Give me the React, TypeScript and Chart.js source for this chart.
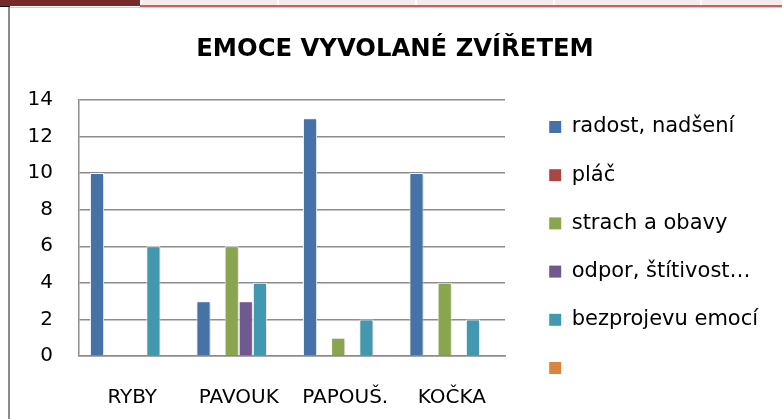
import React, { useEffect, useRef } from 'react';
import { Chart, registerables } from 'chart.js';

Chart.register(...registerables);

const categories = ['RYBY', 'PAVOUK', 'PAPOUŠ.', 'KOČKA'];
const seriesNames = ['radost, nadšení', 'pláč', 'strach a obavy', 'odpor, štítivost…', 'bezprojevu emocí', ''];
const radost: (number | null)[] = [10, 3, 13, 10];
const plac: (number | null)[] = [null, null, null, null];
const strach: (number | null)[] = [null, 6, 1, 4];
const odpor: (number | null)[] = [null, 3, null, null];
const bezprojevu: (number | null)[] = [6, 4, 2, 2];
const serie6: (number | null)[] = [null, null, null, null];
const seriesColors = ['#4572A7', '#AA4643', '#89A54E', '#71588F', '#4198AF', '#DB843D'];
const yMin = 0;
const yMax = 14;
const yStep = 2;
const chartTitle = 'EMOCE VYVOLANÉ ZVÍŘETEM';

const FONT = "'DejaVu Sans', sans-serif";

const framePlugin = {
  id: 'framePlugin',
  beforeDraw(chart: any) {
    const { ctx, width, height } = chart;
    ctx.save();
    ctx.fillStyle = '#ffffff';
    ctx.fillRect(0, 0, width, height);
    // spreadsheet strip at the top
    ctx.fillStyle = '#F6EAEA';
    ctx.fillRect(140, 0, width - 140, 6);
    ctx.fillStyle = '#ffffff';
    for (const x of [140, 277, 415, 553, 700]) ctx.fillRect(x, 0, 2, 6);
    ctx.fillStyle = '#C9605E';
    ctx.fillRect(140, 5, width - 140, 2);
    ctx.fillStyle = '#772A2C';
    ctx.fillRect(0, 0, 140, 6);
    ctx.fillStyle = '#111111';
    ctx.fillRect(0, 6, 10, 1);
    // chart frame
    ctx.fillStyle = '#cfcfcf';
    ctx.fillRect(10, 7, width - 10, 1);
    ctx.fillStyle = '#8a8a8a';
    ctx.fillRect(8, 7, 2, height - 7);
    ctx.restore();
  },
};

const shadowPlugin = {
  id: 'shadowPlugin',
  beforeDatasetsDraw(chart: any) {
    const ctx = chart.ctx;
    ctx.save();
    ctx.shadowColor = 'rgba(0,0,0,0.22)';
    ctx.shadowBlur = 3;
    ctx.shadowOffsetX = 1;
    ctx.shadowOffsetY = 1;
  },
  afterDatasetsDraw(chart: any) {
    chart.ctx.restore();
  },
};

export default function App() {
  const ref = useRef<HTMLCanvasElement | null>(null);

  useEffect(() => {
    if (!ref.current) return;
    const seriesData = [radost, plac, strach, odpor, bezprojevu, serie6];
    const chart = new Chart(ref.current, {
      type: 'bar',
      data: {
        labels: categories,
        datasets: seriesData.map((d, i) => ({
          label: seriesNames[i],
          data: d,
          backgroundColor: seriesColors[i],
          borderColor: '#ffffff',
          borderWidth: 1,
          categoryPercentage: 6 / 7.55,
          barPercentage: 1,
        })),
      },
      options: {
        responsive: false,
        animation: false,
        devicePixelRatio: 1,
        layout: { padding: { left: 27, right: 19, top: 0, bottom: 0 } },
        plugins: {
          title: {
            display: true,
            text: chartTitle,
            color: '#000000',
            font: { family: FONT, size: 24.3, weight: 'bold', lineHeight: 1.2 },
            padding: { top: 35.5, bottom: 35.3 },
          },
          legend: {
            display: true,
            position: 'right',
            align: 'center',
            maxWidth: 241,
            title: { display: true, text: ' ', font: { size: 10, lineHeight: 1.2 }, padding: { top: 0, bottom: 64 } },
            labels: {
              color: '#000000',
              font: { family: FONT, size: 21 },
              boxWidth: 12,
              boxHeight: 12,
              padding: 27.2,
              generateLabels: (c: any) =>
                c.data.datasets.map((ds: any, i: number) => ({
                  text: ds.label,
                  fillStyle: seriesColors[i],
                  strokeStyle: seriesColors[i],
                  lineWidth: 0,
                  hidden: false,
                  datasetIndex: i,
                  fontColor: '#000000',
                })),
            },
          },
          tooltip: { enabled: false },
        },
        scales: {
          x: {
            grid: { display: false, drawTicks: false },
            border: { display: true, color: '#8c8c8c', width: 1.5 },
            ticks: { color: '#000000', font: { family: FONT, size: 20 }, padding: 30, maxRotation: 0 },
            afterFit: (s: any) => {
              s.height = 63;
            },
          },
          y: {
            min: yMin,
            max: yMax,
            ticks: { stepSize: yStep, color: '#000000', font: { family: FONT, size: 20 }, padding: 26 },
            grid: { color: '#8c8c8c', lineWidth: 1.5, drawTicks: false },
            border: { display: true, color: '#8c8c8c', width: 1.5 },
            afterFit: (s: any) => {
              s.width = 52;
            },
          },
          y2: {
            position: 'right',
            display: true,
            grid: { display: false, drawTicks: false },
            border: { display: false },
            ticks: { display: false },
            afterFit: (s: any) => {
              s.width = 17;
            },
          },
        },
      },
      plugins: [framePlugin, shadowPlugin],
    } as any);
    return () => chart.destroy();
  }, []);

  return (
    <div style={{ position: 'fixed', left: 0, top: 0, width: 782, height: 419, background: '#fff' }}>
      <canvas ref={ref} width={782} height={419} style={{ display: 'block' }} />
    </div>
  );
}
